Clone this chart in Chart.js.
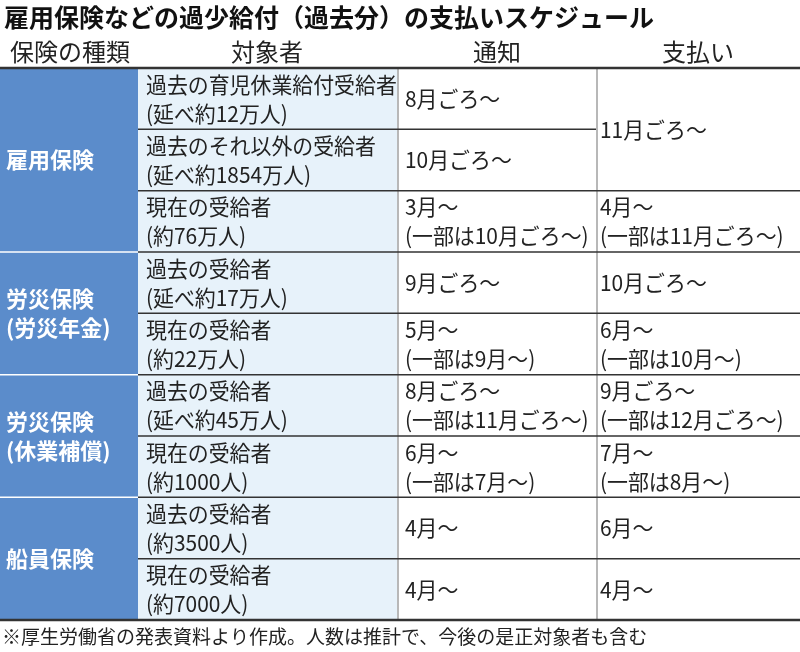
<!DOCTYPE html>
<html>
<head>
<meta charset="utf-8">
<script src="https://cdn.jsdelivr.net/npm/chart.js@4"></script>
<style>
  html, body { margin: 0; padding: 0; background: #fff; }
  #wrap { width: 800px; height: 652px; }
</style>
</head>
<body>
<div id="wrap"><canvas id="tbl"></canvas></div>
<script>
// 雇用保険などの過少給付（過去分）の支払いスケジュール

const titleText = '雇用保険などの過少給付（過去分）の支払いスケジュール';
const headers = ['保険の種類', '対象者', '通知', '支払い'];
const noteText = '※厚生労働省の発表資料より作成。人数は推計で、今後の是正対象者も含む';

// 保険の種類（行の範囲つき）
const groupNames = [['雇用保険'], ['労災保険', '(労災年金)'], ['労災保険', '(休業補償)'], ['船員保険']];
const groupStart = [0, 3, 5, 7];
const groupEnd = [3, 5, 7, 9];

// 対象者
const targets = [
  ['過去の育児休業給付受給者', '(延べ約12万人)'],
  ['過去のそれ以外の受給者', '(延べ約1854万人)'],
  ['現在の受給者', '(約76万人)'],
  ['過去の受給者', '(延べ約17万人)'],
  ['現在の受給者', '(約22万人)'],
  ['過去の受給者', '(延べ約45万人)'],
  ['現在の受給者', '(約1000人)'],
  ['過去の受給者', '(約3500人)'],
  ['現在の受給者', '(約7000人)']
];

// 通知
const notices = [
  ['8月ごろ～'],
  ['10月ごろ～'],
  ['3月～', '(一部は10月ごろ～)'],
  ['9月ごろ～'],
  ['5月～', '(一部は9月～)'],
  ['8月ごろ～', '(一部は11月ごろ～)'],
  ['6月～', '(一部は7月～)'],
  ['4月～'],
  ['4月～']
];

// 支払い（先頭は2行ぶん結合）
const payments = [
  ['11月ごろ～'],
  ['4月～', '(一部は11月ごろ～)'],
  ['10月ごろ～'],
  ['6月～', '(一部は10月～)'],
  ['9月ごろ～', '(一部は12月ごろ～)'],
  ['7月～', '(一部は8月～)'],
  ['6月～'],
  ['4月～']
];
const payStart = [0, 2, 3, 4, 5, 6, 7, 8];
const payEnd = [2, 3, 4, 5, 6, 7, 8, 9];

// ---------- 表の描画 ----------

const colEdges = [0, 138, 397, 596, 800];
const FONT = '"Noto Sans CJK JP", "Noto Sans", sans-serif';

function drawLines(ctx, lines, x, yTop, yBot, opts) {
  const lh = 29;
  const mid = (yTop + yBot) / 2;
  const y0 = mid - (lines.length - 1) * lh / 2;
  const sx = opts.squeeze || 1;
  ctx.fillStyle = opts.color;
  ctx.font = opts.font;
  ctx.textAlign = opts.align || 'left';
  ctx.textBaseline = 'middle';
  lines.forEach((t, i) => {
    ctx.save();
    ctx.translate(x, y0 + i * lh);
    ctx.scale(sx, 1);
    ctx.fillText(t, 0, 0);
    ctx.restore();
  });
}

const tablePlugin = {
  id: 'tablePlugin',
  afterDraw(chart) {
    const ctx = chart.ctx;
    const xs = chart.scales.x;
    const ys = chart.scales.y;
    const px = (c) => xs.getPixelForValue(colEdges[c]);
    const py = (r) => ys.getPixelForValue(r);

    ctx.save();
    // タイトル・見出し
    drawLines(ctx, [titleText], 4, 0, 34, { color: '#111', font: 'bold 25px ' + FONT });
    const hx = [70, 267, 497, 698];
    headers.forEach((h, i) => {
      drawLines(ctx, [h], hx[i], 36, 68, { color: '#222', font: '24px ' + FONT, align: 'center' });
    });

    // 背景
    ctx.fillStyle = '#5b8ccb';
    ctx.fillRect(px(0), py(0), px(1) - px(0), py(9) - py(0));
    ctx.fillStyle = '#e7f2fa';
    ctx.fillRect(px(1), py(0), px(2) - px(1), py(9) - py(0));

    // 縦の区切り（灰色）
    ctx.strokeStyle = '#b8b8b8';
    ctx.lineWidth = 2;
    [2, 3].forEach((c) => {
      ctx.beginPath();
      ctx.moveTo(px(c) + 1, py(0));
      ctx.lineTo(px(c) + 1, py(9));
      ctx.stroke();
    });

    // 横線：グループ境界（白線）
    ctx.strokeStyle = '#ffffff';
    ctx.lineWidth = 1.5;
    groupStart.slice(1).forEach((r) => {
      ctx.beginPath();
      ctx.moveTo(px(0), py(r));
      ctx.lineTo(px(1), py(r));
      ctx.stroke();
    });

    // 横線：対象者・通知
    ctx.strokeStyle = '#333';
    ctx.lineWidth = 1.5;
    for (let r = 1; r < 9; r++) {
      ctx.beginPath();
      ctx.moveTo(px(1), py(r));
      ctx.lineTo(px(3), py(r));
      ctx.stroke();
    }
    // 横線：支払い
    payStart.slice(1).forEach((r) => {
      ctx.beginPath();
      ctx.moveTo(px(3), py(r));
      ctx.lineTo(px(4), py(r));
      ctx.stroke();
    });
    // 上下の太線
    ctx.lineWidth = 2.5;
    [0, 9].forEach((r) => {
      ctx.beginPath();
      ctx.moveTo(px(0), py(r));
      ctx.lineTo(px(4), py(r));
      ctx.stroke();
    });

    // 文字
    const cellFont = '22px ' + FONT;
    groupNames.forEach((g, i) => {
      drawLines(ctx, g, px(0) + 6, py(groupStart[i]), py(groupEnd[i]), { color: '#fff', font: 'bold 22px ' + FONT });
    });
    targets.forEach((t, r) => {
      drawLines(ctx, t, px(1) + 8, py(r), py(r + 1), { color: '#222', font: cellFont, squeeze: 0.95 });
    });
    notices.forEach((t, r) => {
      drawLines(ctx, t, px(2) + 8, py(r), py(r + 1), { color: '#222', font: cellFont, squeeze: 0.95 });
    });
    payments.forEach((t, i) => {
      drawLines(ctx, t, px(3) + 4, py(payStart[i]), py(payEnd[i]), { color: '#222', font: cellFont, squeeze: 0.95 });
    });

    // 注記
    drawLines(ctx, [noteText], 2, 622, 652, { color: '#222', font: '19px ' + FONT });
    ctx.restore();
  }
};

new Chart(document.getElementById('tbl'), {
  type: 'scatter',
  data: { datasets: [{ data: [] }] },
  options: {
    responsive: true,
    maintainAspectRatio: false,
    animation: false,
    layout: { padding: { top: 68, bottom: 32, left: 0, right: 0 } },
    scales: {
      x: { display: false, min: 0, max: 800 },
      y: { display: false, min: 0, max: 9, reverse: true }
    },
    plugins: { legend: { display: false }, tooltip: { enabled: false } }
  },
  plugins: [tablePlugin]
});
</script>
</body>
</html>
